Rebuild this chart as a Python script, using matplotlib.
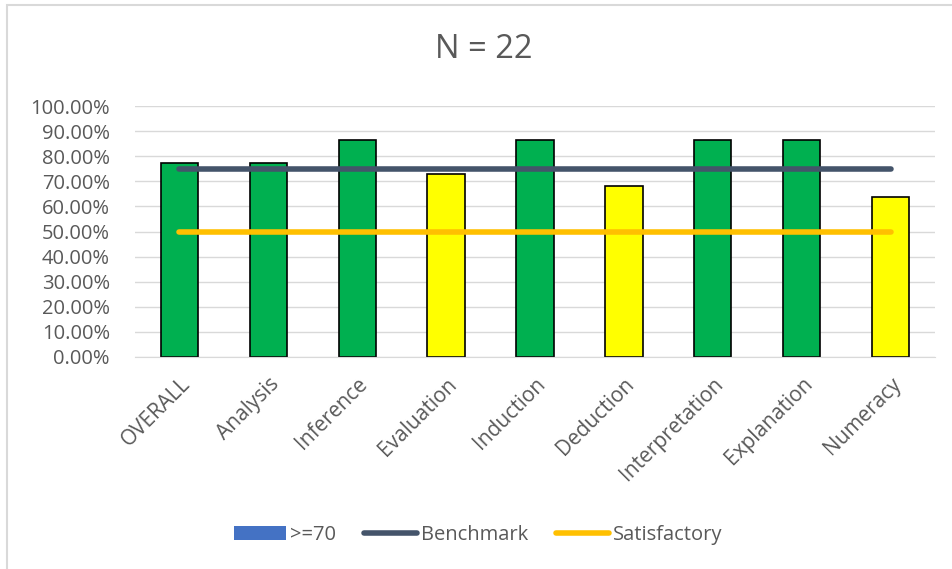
import matplotlib.pyplot as plt
from matplotlib.patches import Rectangle, Patch
from matplotlib.lines import Line2D
from matplotlib.ticker import PercentFormatter

plt.rcParams['font.family'] = ['Open Sans', 'DejaVu Sans']

categories = ["OVERALL", "Analysis", "Inference", "Evaluation", "Induction",
              "Deduction", "Interpretation", "Explanation", "Numeracy"]
scores = [0.7727, 0.7727, 0.8636, 0.7273, 0.8636, 0.6818, 0.8636, 0.8636, 0.6364]
benchmark = [0.75] * len(categories)
satisfactory = [0.50] * len(categories)
cutoff = 0.75

grey = "#595959"
fig = plt.figure(figsize=(9.52, 5.69), dpi=100)
fig.patches.append(Rectangle((7 / 952, -0.1), 1.2, 1 - 5 / 569 + 0.1,
                             transform=fig.transFigure, fill=False,
                             edgecolor="#D9D9D9", linewidth=1.5))

ax = fig.add_axes([135 / 952, 1 - 357 / 569, 800 / 952, 251 / 569])
x = range(len(categories))
colors = ["#00B050" if s >= cutoff else "#FFFF00" for s in scores]
ax.bar(x, scores, width=0.42, color=colors, edgecolor="black", linewidth=1.2, zorder=2)
ax.plot(x, benchmark, color="#44546A", linewidth=4, solid_capstyle="round", zorder=3)
ax.plot(x, satisfactory, color="#FFC000", linewidth=4, solid_capstyle="round", zorder=3)

ax.set_xlim(-0.5, len(categories) - 0.5)
ax.set_ylim(0, 1.0)
ax.set_yticks([i / 10 for i in range(11)])
ax.yaxis.set_major_formatter(PercentFormatter(1.0, decimals=2))
ax.grid(axis="y", color="#D9D9D9", linewidth=1, zorder=0)
ax.set_xticks(list(x))
ax.set_xticklabels(categories, rotation=45, ha="right", rotation_mode="anchor")
ax.tick_params(axis="y", length=0, labelsize=14.5, labelcolor=grey, pad=18)
ax.tick_params(axis="x", length=0, labelsize=15, labelcolor=grey, pad=12)
for s in ax.spines.values():
    s.set_visible(False)
ax.spines["bottom"].set_visible(True)
ax.spines["bottom"].set_color("#D9D9D9")

fig.text(484 / 952, 1 - 50 / 569, "N = 22", ha="center", va="center",
         fontsize=23.5, color=grey)

handles = [Patch(facecolor="#4472C4", label=">=70"),
           Line2D([], [], color="#44546A", linewidth=4, solid_capstyle="round", label="Benchmark"),
           Line2D([], [], color="#FFC000", linewidth=4, solid_capstyle="round", label="Satisfactory")]
fig.legend(handles=handles, loc="center", bbox_to_anchor=(478 / 952, 1 - 535 / 569),
           ncol=3, frameon=False, fontsize=14.5, labelcolor=grey,
           handlelength=2.6, handleheight=0.75, handletextpad=0.2, columnspacing=1.4)

fig.savefig("out.png", dpi=100, facecolor="white")
